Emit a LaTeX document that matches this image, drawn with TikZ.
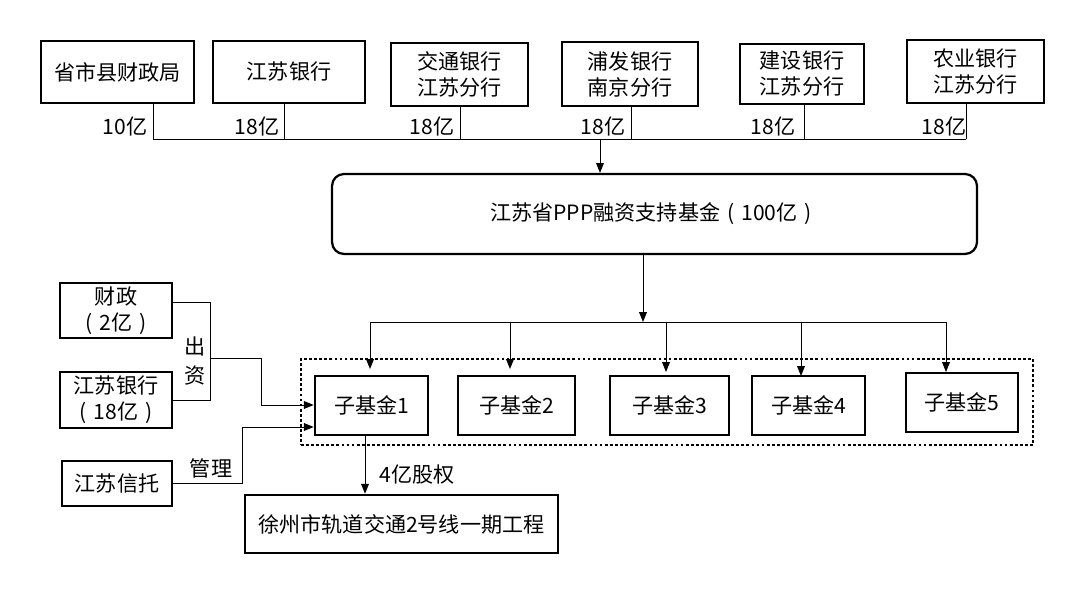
\documentclass[tikz,border=0pt]{standalone}
\usepackage{fontspec}
\setmainfont{Noto Sans CJK SC}
\usetikzlibrary{arrows.meta}
\newcommand\myfs{\fontsize{15}{18.5}\selectfont}
\newcommand\mylp{\makebox[1em]{(}}
\newcommand\myrp{\makebox[1em]{)}}
\begin{document}
\begin{tikzpicture}[x=0.025cm,y=-0.025cm,
  box/.style={draw, line width=1.8pt, inner sep=0pt, align=center, font=\myfs},
  conn/.style={line width=0.7pt},
  arr/.style={conn, -{Triangle[length=7pt,width=5.5pt]}},
  lbl/.style={inner sep=0pt, align=center, font=\myfs},
  grpframe/.style={draw, line width=2pt, dash pattern=on 2pt off 1.6pt, inner sep=0pt}]
\useasboundingbox[fill=white] (0,0) rectangle (1080,589);

% top contributors
\node[box, minimum width=153*0.025cm, minimum height=62*0.025cm] (b1) at (117.5,72) {省市县财政局};
\node[box, minimum width=152*0.025cm, minimum height=62*0.025cm] (b2) at (289,72) {江苏银行};
\node[box, minimum width=137*0.025cm, minimum height=63*0.025cm] (b3) at (459.5,74.5) {交通银行\\江苏分行};
\node[box, minimum width=136*0.025cm, minimum height=64*0.025cm] (b4) at (630,74) {浦发银行\\南京分行};
\node[box, minimum width=124*0.025cm, minimum height=60*0.025cm] (b5) at (802,74) {建设银行\\江苏分行};
\node[box, minimum width=137*0.025cm, minimum height=63*0.025cm] (b6) at (975.5,71.5) {农业银行\\江苏分行};

\coordinate (l1) at (153,139);
\coordinate (l2) at (284,139);
\coordinate (l3) at (460,139);
\coordinate (l4) at (631,139);
\coordinate (l5) at (804,139);
\coordinate (l6) at (966,139);
\coordinate (m) at (600,139);

\draw[conn] (b1.south -| l1) -- (l1);
\draw[conn] (b2.south -| l2) -- (l2);
\draw[conn] (b3.south -| l3) -- (l3);
\draw[conn] (b4.south -| l4) -- (l4);
\draw[conn] (b5.south -| l5) -- (l5);
\draw[conn] (b6.south -| l6) -- (l6);
\draw[conn] (l1) -- (l6);

\node[lbl] (a1) at (125,126) {10亿};
\node[lbl] (a2) at (257,126) {18亿};
\node[lbl] (a3) at (432,126) {18亿};
\node[lbl] (a4) at (603,126) {18亿};
\node[lbl] (a5) at (773,126) {18亿};
\node[lbl] (a6) at (944,126) {18亿};

% main fund
\node[box, line width=1.6pt, rounded corners=0.3cm, minimum width=645*0.025cm, minimum height=80*0.025cm] (fund) at (654.5,214) {江苏省PPP融资支持基金\mylp 100亿\myrp};
\draw[arr] (m) -- (fund.north -| m);

% distribution bus
\coordinate (f0) at (643,322);
\draw[arr] (fund.south -| f0) -- (f0);
\coordinate (s1) at (370,322);
\coordinate (s2) at (510,322);
\coordinate (s3) at (666,322);
\coordinate (s4) at (801,322);
\coordinate (s5) at (946,322);
\draw[conn] (s1) -- (s5);

% group frame and sub funds
\node[grpframe, minimum width=732*0.025cm, minimum height=86*0.025cm] (grp) at (667,402) {};
\node[box, minimum width=113*0.025cm, minimum height=59*0.025cm] (sf1) at (371.5,405.5) {子基金1};
\node[box, minimum width=117*0.025cm, minimum height=59*0.025cm] (sf2) at (516.5,405.5) {子基金2};
\node[box, minimum width=119*0.025cm, minimum height=59*0.025cm] (sf3) at (669.5,405.5) {子基金3};
\node[box, minimum width=113*0.025cm, minimum height=59*0.025cm] (sf4) at (808.5,405.5) {子基金4};
\node[box, minimum width=112*0.025cm, minimum height=59*0.025cm] (sf5) at (962,402.5) {子基金5};

\coordinate (t1) at (370,369);
\coordinate (t2) at (510,369);
\coordinate (t3) at (666,372);
\coordinate (t4) at (801,376);
\coordinate (t5) at (946,372);
\draw[arr] (s1) -- (t1);
\draw[arr] (s2) -- (t2);
\draw[arr] (s3) -- (t3);
\draw[arr] (s4) -- (t4);
\draw[arr] (s5) -- (t5);

% left side
\node[box, minimum width=112*0.025cm, minimum height=55*0.025cm] (cz) at (116,310.5) {财政\\\mylp 2亿\myrp};
\node[box, minimum width=112*0.025cm, minimum height=56*0.025cm] (jy) at (116,400) {江苏银行\\\mylp 18亿\myrp};
\node[box, minimum width=110*0.025cm, minimum height=45*0.025cm] (xt) at (117,483.5) {江苏信托};

\coordinate (q1) at (210,302);
\coordinate (q2) at (210,400);
\coordinate (q3) at (210,358);
\coordinate (q4) at (261,405);
\draw[conn] (cz.east |- q1) -- (q1) -- (q2) -- (jy.east |- q2);
\draw[arr] (q3) -| (q4) -- (sf1.west |- q4);
\node[lbl, font=\fontsize{15}{21.3}\selectfont] (cz-lbl) at (195,361) {出\\资};

\coordinate (r1) at (242,427);
\draw[arr] (xt.east) -| (r1) -- (sf1.west |- r1);
\node[lbl] (gl) at (211,468) {管理};

% project
\node[box, minimum width=313*0.025cm, minimum height=58*0.025cm] (proj) at (401.5,524) {徐州市轨道交通2号线一期工程};
\coordinate (p0) at (365,460);
\draw[arr] (sf1.south -| p0) -- (proj.north -| p0);
\node[lbl] (gq) at (417,475) {4亿股权};
\end{tikzpicture}
\end{document}
